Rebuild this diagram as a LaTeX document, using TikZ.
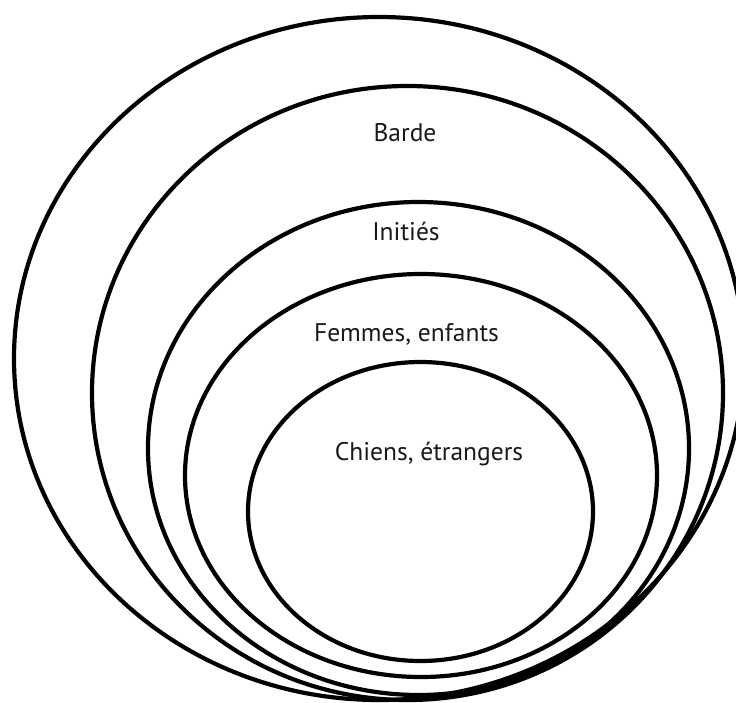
\documentclass[tikz,border=0pt]{standalone}
\usepackage{fontspec}
\setmainfont{PT Sans}
\begin{document}
\begin{tikzpicture}[x=1pt,y=-1pt,
  ring/.style={draw=black,line width=4.2pt},
  lbl/.style={anchor=base,inner sep=0pt,font=\fontsize{25.5}{30}\selectfont,text=black!90}]
\useasboundingbox (0,0) rectangle (736,702);
\clip (0,0) rectangle (736,702);
\draw[ring] (379,358.5) ellipse [x radius=365, y radius=341.5];
\draw[ring] (407.5,393) ellipse [x radius=315.5, y radius=307];
\draw[ring] (418.5,448.5) ellipse [x radius=270.5, y radius=246.5];
\draw[ring] (421,475.5) ellipse [x radius=236, y radius=201.5];
\draw[ring] (420.5,511.5) ellipse [x radius=172.5, y radius=149.5];
\node[lbl] (barde) at (405,141.7) {Barde};
\node[lbl] (inities) at (406,240.7) {Initiés};
\node[lbl] (femmes) at (406.5,341.7) {Femmes, enfants};
\node[lbl] (chiens) at (429,460) {Chiens, étrangers};
\end{tikzpicture}
\end{document}
